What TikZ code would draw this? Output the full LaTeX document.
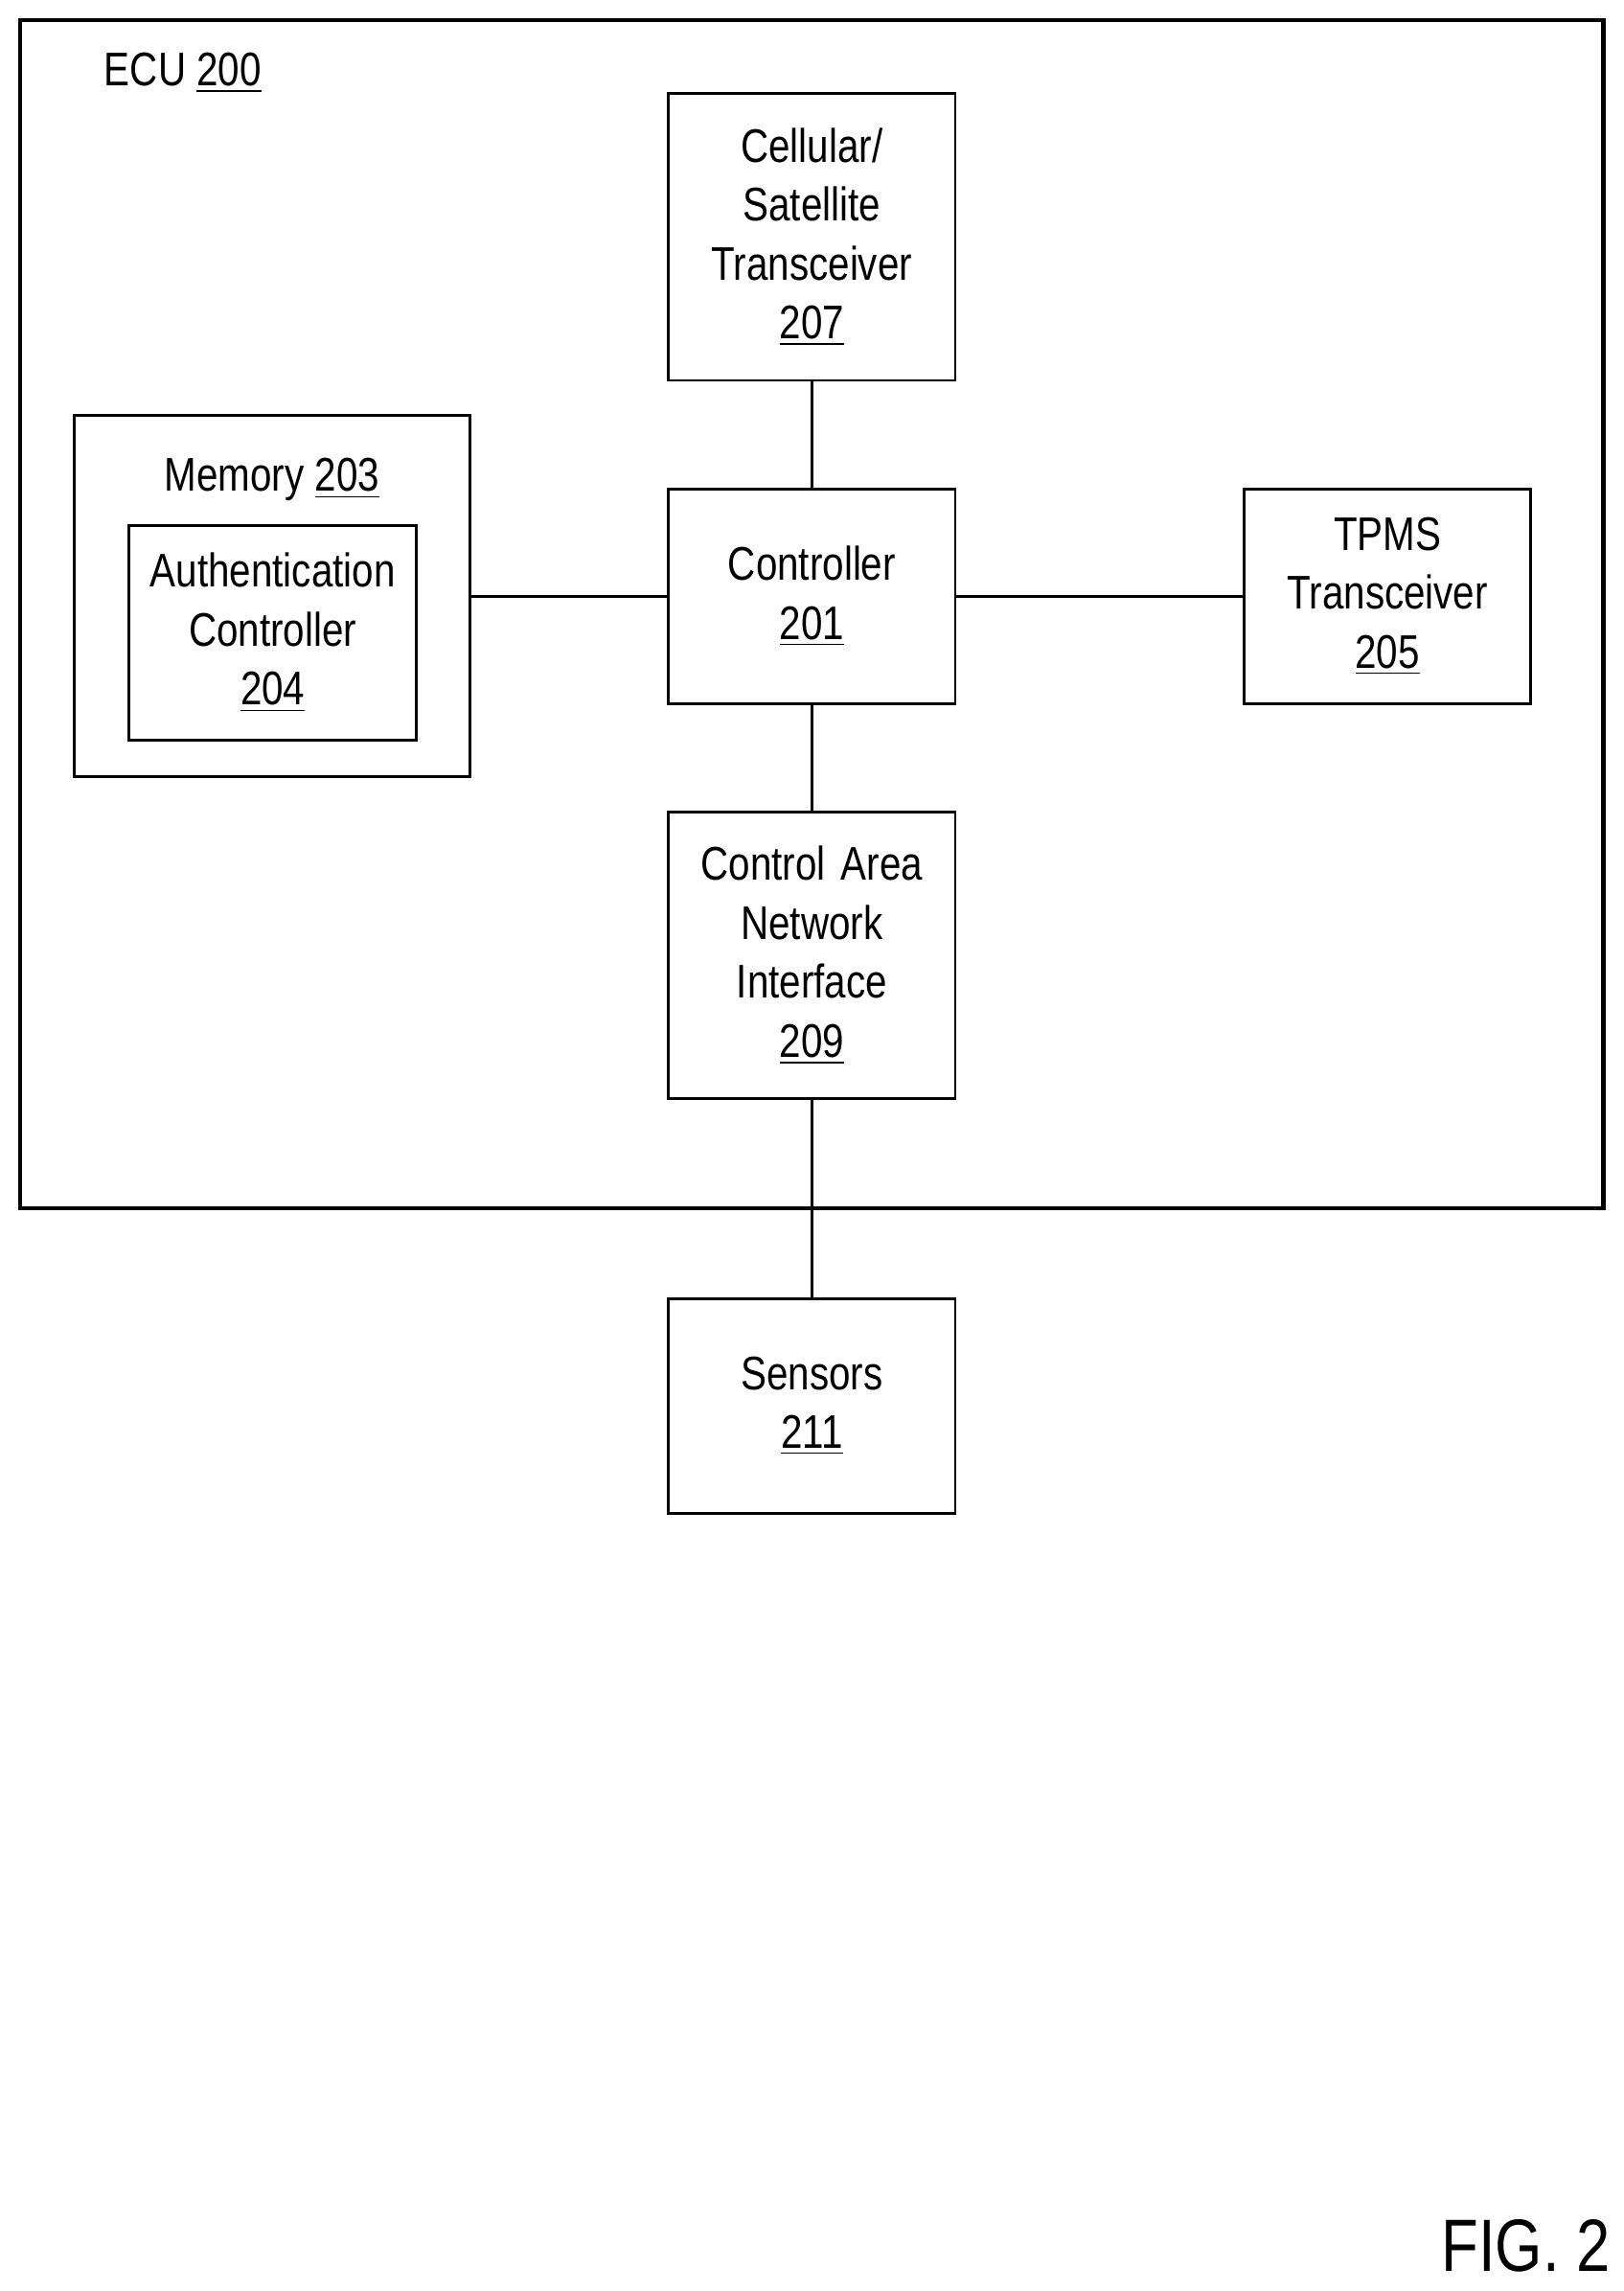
\documentclass[tikz,border=0pt]{standalone}
\usepackage{fontspec}
\setmainfont{Liberation Sans}[FakeStretch=0.82]
\tikzstyle{block} = [rectangle, draw=black, thick, minimum width=2.99cm, text centered, text width=2.9cm, font=\fontsize{14}{17.5}\selectfont, inner sep=0pt]
\tikzstyle{link} = [thick]

\begin{document}
\begin{tikzpicture}[x=0.01526cm, y=-0.01526cm]
\useasboundingbox (0,0) rectangle (1110,1566);

\node (ecu) [draw=black, very thick, minimum width=16.51cm, minimum height=12.39cm, inner sep=0pt] at (555,420) {};
\node (ecul) [font=\fontsize{14}{17.5}\selectfont] at (125,50) {ECU \underline{200}};

\node (cell) [block, minimum height=2.99cm] at (555,162) {Cellular/\\Satellite\\Transceiver\\\underline{207}};
\node (ctrl) [block, minimum height=2.24cm] at (555,407.5) {Controller\\\underline{201}};
\node (tpms) [block, minimum height=2.24cm] at (948.5,407.5) {TPMS\\Transceiver\\\underline{205}};
\node (mem) [draw=black, thick, minimum width=4.12cm, minimum height=3.77cm] at (186,407.5) {};
\node (meml) [font=\fontsize{14}{17.5}\selectfont] at (186,328) {Memory \underline{203}};
\node (auth) [block, minimum width=3.0cm, minimum height=2.24cm] at (186.5,432.5) {Authentication\\Controller\\\underline{204}};
\node (can) [block, minimum height=2.99cm] at (555,653) {Control Area\\Network\\Interface\\\underline{209}};
\node (sens) [block, minimum height=2.24cm] at (555,961) {Sensors\\\underline{211}};
\node (fig) [font=\fontsize{22}{26}\selectfont] at (1043,1535) {FIG. 2};

\draw [link] (cell) -- (ctrl);
\draw [link] (ctrl) -- (tpms);
\draw [link] (mem.east |- ctrl) -- (ctrl);
\draw [link] (ctrl) -- (can);
\draw [link] (can) -- (sens);

\end{tikzpicture}
\end{document}
